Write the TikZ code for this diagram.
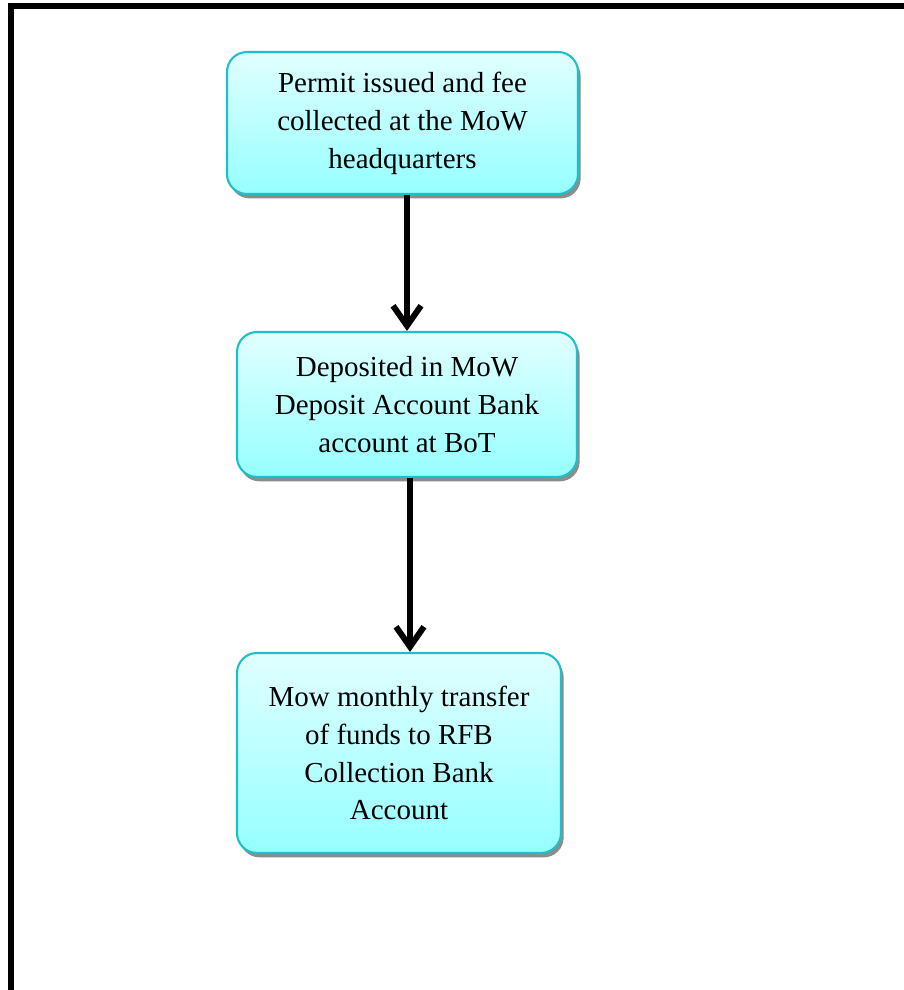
\documentclass[tikz,border=0pt]{standalone}
\usepackage{fontspec}
\setmainfont{Liberation Serif}
\usetikzlibrary{arrows.meta,shadows}
\definecolor{boxtop}{RGB}{225,255,255}
\definecolor{boxbot}{RGB}{150,255,255}
\definecolor{boxline}{RGB}{31,190,200}
\begin{document}
\begin{tikzpicture}[
    stepbox/.style={draw=boxline, line width=1.2pt, rounded corners=0.4cm,
      top color=boxtop, bottom color=boxbot, align=center, inner sep=0pt,
      font=\fontsize{16.5}{21.6}\selectfont,
      drop shadow={shadow xshift=1.5pt, shadow yshift=-2.5pt, fill=black!45, opacity=1}},
    flow/.style={line width=3.8pt, -{Straight Barb[length=0.4cm, width=0.56cm, line width=3.4pt]}}
  ]
  \useasboundingbox (0,0) rectangle (18.06,19.8);
  % frame
  \draw[line width=0.12cm] (0.22,-0.2) -- (0.22,19.68) -- (18.3,19.68);
  \node[stepbox, minimum width=7.02cm, minimum height=2.84cm] (permit) at (8.05,17.34)
    {Permit issued and fee\\collected at the MoW\\headquarters};
  \node[stepbox, minimum width=6.8cm, minimum height=2.9cm] (deposit) at (8.14,11.71)
    {Deposited in MoW\\Deposit Account Bank\\account at BoT};
  \node[stepbox, minimum width=6.48cm, minimum height=4.0cm] (transfer) at (7.98,4.74)
    {Mow monthly transfer\\of funds to RFB\\Collection Bank\\Account};
  \draw[flow] (permit.south -| deposit) -- (deposit.north);
  \draw[flow] ([xshift=0.06cm]deposit.south) -- ([xshift=0.06cm]deposit.south |- transfer.north);
\end{tikzpicture}
\end{document}
